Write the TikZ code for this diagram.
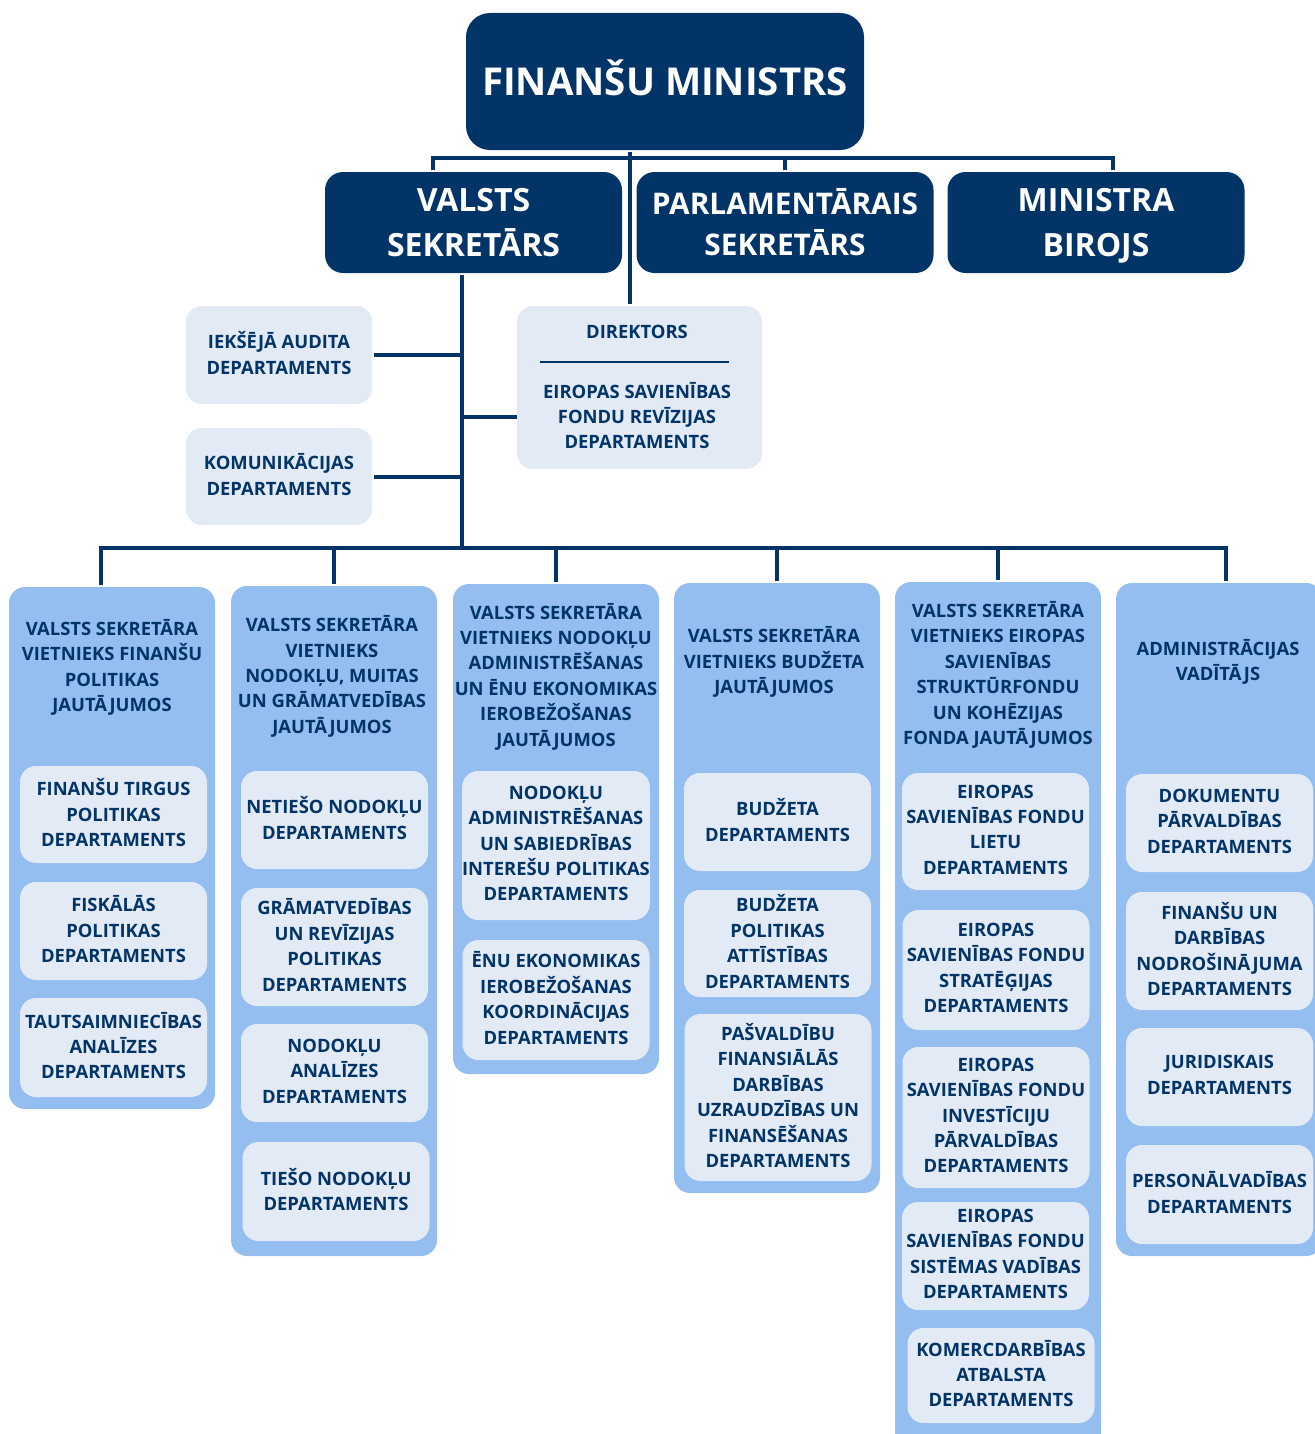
\documentclass[tikz,border=0pt]{standalone}
\usepackage{fontspec}
\setmainfont{Open Sans}
\usetikzlibrary{positioning}
\definecolor{navy}{RGB}{2,52,103}
\definecolor{colblue}{RGB}{147,190,239}
\definecolor{pale}{RGB}{225,234,245}

\begin{document}
\begin{tikzpicture}[x=0.5pt,y=-0.5pt,line width=2pt,
    every node/.style={execute at end node={\vphantom{Ļ}}},
    boss/.style={fill=navy,text=white,rounded corners=12pt,inner sep=0pt,align=center,
      font=\fontsize{19.2}{24}\selectfont\bfseries},
    head/.style={fill=navy,text=white,rounded corners=9pt,inner sep=0pt,align=center,
      minimum width=148.5pt,minimum height=50.5pt,font=\fontsize{16}{22.5}\selectfont\bfseries,
      text depth=-3pt},
    colbox/.style={fill=colblue,rounded corners=8pt,minimum width=103pt,inner sep=0pt},
    deputy/.style={text=navy,align=center,inner sep=0pt,font=\fontsize{9.2}{12.7}\selectfont\bfseries},
    dept/.style={fill=pale,text=navy,rounded corners=8pt,minimum width=93.5pt,inner sep=0pt,
      align=center,font=\fontsize{9.2}{12.7}\selectfont\bfseries},
    link/.style={draw=navy,line width=2pt}]
\useasboundingbox (0,0) rectangle (1314,1434);

% top level
\node[boss,minimum width=199pt,minimum height=68.5pt] (fm) at (665,81.5) {FINANŠU MINISTRS};
\node[head] (vs) at (473.5,222.5) {VALSTS\\SEKRETĀRS};
\node[head,font=\fontsize{14.9}{20.5}\selectfont\bfseries,text depth=0.4pt] (ps) at (785,222.5) {PARLAMENTĀRAIS\\SEKRETĀRS};
\node[head] (mb) at (1096,222.5) {MINISTRA\\BIROJS};

% units under the state secretary
\node[dept,minimum width=93pt,minimum height=49pt] (aud) at (279,355) {IEKŠĒJĀ AUDITA\\DEPARTAMENTS};
\node[dept,minimum width=93pt,minimum height=48.5pt] (kom) at (279,476.5) {KOMUNIKĀCIJAS\\DEPARTAMENTS};
\node[dept,minimum width=122.5pt,minimum height=81.5pt] (dir) at (639.5,387.5) {};
\node[deputy] (dirt) at (637,334) {DIREKTORS};
\node[deputy] (dirb) at (637,417.5) {EIROPAS SAVIENĪBAS\\FONDU REVĪZIJAS\\DEPARTAMENTS};
\draw[navy,line width=1pt] (540,362) -- (729,362);

% columns
\node[colbox,minimum height=261pt] (col1) at (112,848) {};
\node[colbox,minimum height=335pt] (col2) at (334,921) {};
\node[colbox,minimum height=245pt] (col3) at (556,829) {};
\node[colbox,minimum height=305pt] (col4) at (777,888) {};
\node[colbox,minimum height=434pt] (col5) at (998,1016) {};
\node[colbox,minimum height=336.5pt] (col6) at (1219,919.5) {};

\node[deputy] (dep1) at (112,667.5) {VALSTS SEKRETĀRA\\VIETNIEKS FINANŠU\\POLITIKAS\\JAUTĀJUMOS};
\node[deputy] (dep2) at (332,676.5) {VALSTS SEKRETĀRA\\VIETNIEKS\\NODOKĻU, MUITAS\\UN GRĀMATVEDĪBAS\\JAUTĀJUMOS};
\node[deputy] (dep3) at (556,676.5) {VALSTS SEKRETĀRA\\VIETNIEKS NODOKĻU\\ADMINISTRĒŠANAS\\UN ĒNU EKONOMIKAS\\IEROBEŽOŠANAS\\JAUTĀJUMOS};
\node[deputy] (dep4) at (774,662) {VALSTS SEKRETĀRA\\VIETNIEKS BUDŽETA\\JAUTĀJUMOS};
\node[deputy] (dep5) at (998,675) {VALSTS SEKRETĀRA\\VIETNIEKS EIROPAS\\SAVIENĪBAS\\STRUKTŪRFONDU\\UN KOHĒZIJAS\\FONDA JAUTĀJUMOS};
\node[deputy] (dep6) at (1218,662) {ADMINISTRĀCIJAS\\VADĪTĀJS};

% departments
\node[dept,minimum height=48.5pt] (d1a) at (113.5,814.5) {FINANŠU TIRGUS\\POLITIKAS\\DEPARTAMENTS};
\node[dept,minimum height=49pt] (d1b) at (113.5,931) {FISKĀLĀS\\POLITIKAS\\DEPARTAMENTS};
\node[dept,minimum height=49.5pt] (d1c) at (113.5,1047.5) {TAUTSAIMNIECĪBAS\\ANALĪZES\\DEPARTAMENTS};

\node[dept,minimum height=49pt] (d2a) at (334.5,820) {NETIEŠO NODOKĻU\\DEPARTAMENTS};
\node[dept,minimum height=59pt] (d2b) at (334.5,947) {GRĀMATVEDĪBAS\\UN REVĪZIJAS\\POLITIKAS\\DEPARTAMENTS};
\node[dept,minimum height=49pt] (d2c) at (334.5,1073) {NODOKĻU\\ANALĪZES\\DEPARTAMENTS};
\node[dept,minimum height=49.5pt] (d2d) at (336,1191.5) {TIEŠO NODOKĻU\\DEPARTAMENTS};

\node[dept,minimum height=74.5pt] (d3a) at (556,845.5) {NODOKĻU\\ADMINISTRĒŠANAS\\UN SABIEDRĪBAS\\INTEREŠU POLITIKAS\\DEPARTAMENTS};
\node[dept,minimum height=60pt] (d3b) at (556,1000) {ĒNU EKONOMIKAS\\IEROBEŽOŠANAS\\KOORDINĀCIJAS\\DEPARTAMENTS};

\node[dept,minimum height=49pt] (d4a) at (777.5,822) {BUDŽETA\\DEPARTAMENTS};
\node[dept,minimum height=53.5pt] (d4b) at (777.5,943.5) {BUDŽETA\\POLITIKAS\\ATTĪSTĪBAS\\DEPARTAMENTS};
\node[dept,minimum height=83.5pt] (d4c) at (778,1097.5) {PAŠVALDĪBU\\FINANSIĀLĀS\\DARBĪBAS\\UZRAUDZĪBAS UN\\FINANSĒŠANAS\\DEPARTAMENTS};

\node[dept,minimum height=58.5pt] (d5a) at (995.5,831.5) {EIROPAS\\SAVIENĪBAS FONDU\\LIETU\\DEPARTAMENTS};
\node[dept,minimum height=60pt] (d5b) at (996,970) {EIROPAS\\SAVIENĪBAS FONDU\\STRATĒĢIJAS\\DEPARTAMENTS};
\node[dept,minimum height=70.5pt] (d5c) at (996,1117.5) {EIROPAS\\SAVIENĪBAS FONDU\\INVESTĪCIJU\\PĀRVALDĪBAS\\DEPARTAMENTS};
\node[dept,minimum height=54pt] (d5d) at (995.5,1256) {EIROPAS\\SAVIENĪBAS FONDU\\SISTĒMAS VADĪBAS\\DEPARTAMENTS};
\node[dept,minimum height=47.5pt] (d5e) at (1001,1375.5) {KOMERCDARBĪBAS\\ATBALSTA\\DEPARTAMENTS};

\node[dept,minimum height=49pt] (d6a) at (1219.5,823) {DOKUMENTU\\PĀRVALDĪBAS\\DEPARTAMENTS};
\node[dept,minimum height=59pt] (d6b) at (1219.5,951) {FINANŠU UN\\DARBĪBAS\\NODROŠINĀJUMA\\DEPARTAMENTS};
\node[dept,minimum height=49pt] (d6c) at (1219.5,1077) {JURIDISKAIS\\DEPARTAMENTS};
\node[dept,minimum height=49.5pt] (d6d) at (1219.5,1194.5) {PERSONĀLVADĪBAS\\DEPARTAMENTS};

% connectors
\coordinate (top) at (630,158);
\coordinate (vsin) at (433,158);
\coordinate (mbin) at (1113,158);
\coordinate (bus) at (462,548);
\coordinate (dirin) at (517,417);
\draw[link] (fm.south -| top) -- (top |- dir.north);
\draw[link] (vsin |- vs.north) -- (vsin) -- (mbin) -- (mbin |- mb.north);
\draw[link] (ps.north) -- (ps.north |- top);
\draw[link] (vs.south -| bus) -- (bus);
\draw[link] (aud.east) -- (aud.east -| bus);
\draw[link] (kom.east) -- (kom.east -| bus);
\draw[link] (dirin) -- (dirin -| bus);
\draw[link] ([xshift=-5.5pt]col1.north) |- (bus);
\foreach \c in {col2,col3,col4,col5}
  \draw[link] (\c.north) |- (bus);
\draw[link] ([xshift=3.5pt]col6.north) |- (bus);
\end{tikzpicture}
\end{document}
